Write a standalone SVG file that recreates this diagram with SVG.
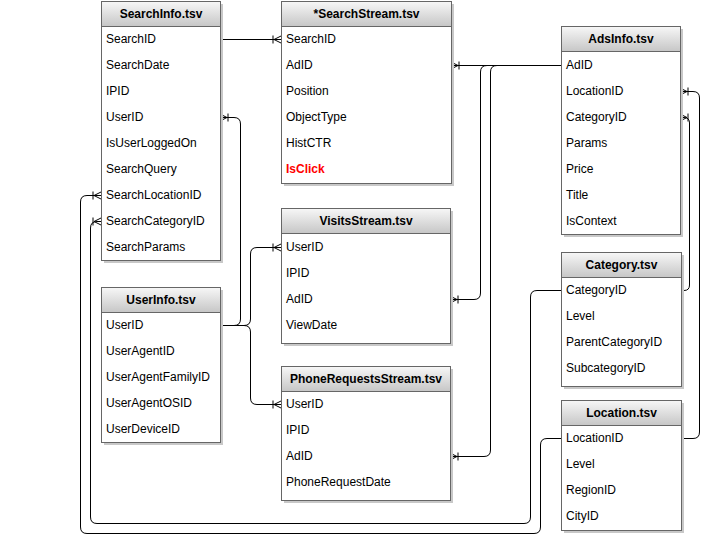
<svg xmlns="http://www.w3.org/2000/svg" width="711" height="547" viewBox="0 0 711 547">
<style>
  .box{fill:#ffffff;stroke:#666666;stroke-width:1}
  .shadow{fill:#c8c8c8}
  .hdr{fill:url(#hg);stroke:#666666;stroke-width:1}
  .title{font-family:"Liberation Sans",Arial,Helvetica,sans-serif;font-size:12px;font-weight:bold;fill:#000;text-anchor:middle}
  .row{font-family:"Liberation Sans",Arial,Helvetica,sans-serif;font-size:12px;fill:#000}
  .red{fill:#ff0000;font-weight:bold}
  .conn path{fill:none;stroke:#000;stroke-width:1}
  .cf{marker-end:url(#many)}
</style>
<defs>
  <linearGradient id="hg" x1="0" y1="0" x2="0" y2="1">
    <stop offset="0" stop-color="#f7f7f7"/>
    <stop offset="1" stop-color="#c6c6c6"/>
  </linearGradient>
  <marker id="many" viewBox="0 0 10 10" refX="10" refY="5" markerWidth="10" markerHeight="10" orient="auto" markerUnits="userSpaceOnUse" overflow="visible">
    <path d="M10,1.5 L3,5 L10,8.5 M2,1 V9" fill="none" stroke="#000" stroke-width="1"/>
  </marker>
</defs>
<rect width="711" height="547" fill="#ffffff"/>

<g class="conn" id="connectors">
  <path class="cf" d="M220,39.5 H281"/>
  <path class="cf" d="M561,65.5 H451"/>
  <path class="cf" d="M561,65.5 H487 Q480.5,65.5 480.5,72 V293 Q480.5,299.5 474,299.5 H450"/>
  <path class="cf" d="M561,65.5 H497 Q490.5,65.5 490.5,72 V450 Q490.5,456.5 484,456.5 H450"/>
  <path class="cf" d="M681,438.5 H693 Q699.5,438.5 699.5,432 V98 Q699.5,91.5 693,91.5 H680"/>
  <path class="cf" d="M681,290.5 H684 Q689.5,290.5 689.5,285 V123 Q689.5,117.5 684,117.5 H680"/>
  <path class="cf" d="M561,290.5 H537 Q530.5,290.5 530.5,297 V517 Q530.5,523.5 524,523.5 H97 Q90.5,523.5 90.5,517 V228 Q90.5,221.5 97,221.5 H101"/>
  <path class="cf" d="M561,438.5 H547 Q540.5,438.5 540.5,445 V527 Q540.5,533.5 534,533.5 H87 Q80.5,533.5 80.5,527 V202 Q80.5,195.5 87,195.5 H101"/>
  <path class="cf" d="M220,325.5 H234 Q240.5,325.5 240.5,319 V124 Q240.5,117.5 234,117.5 H220"/>
  <path class="cf" d="M220,325.5 H244 Q250.5,325.5 250.5,319 V254 Q250.5,247.5 257,247.5 H281"/>
  <path class="cf" d="M220,325.5 H244 Q250.5,325.5 250.5,332 V398 Q250.5,404.5 257,404.5 H281"/>
</g>

<g id="SearchInfo">
  <rect class="shadow" x="104" y="4" width="119" height="259"/>
  <rect class="box" x="101.5" y="1.5" width="119" height="259"/>
  <rect class="hdr" x="101.5" y="1.5" width="119" height="25"/>
  <text class="title" x="161" y="18">SearchInfo.tsv</text>
  <text class="row" x="106" y="43">SearchID</text>
  <text class="row" x="106" y="69">SearchDate</text>
  <text class="row" x="106" y="95">IPID</text>
  <text class="row" x="106" y="121">UserID</text>
  <text class="row" x="106" y="147">IsUserLoggedOn</text>
  <text class="row" x="106" y="173">SearchQuery</text>
  <text class="row" x="106" y="199">SearchLocationID</text>
  <text class="row" x="106" y="225">SearchCategoryID</text>
  <text class="row" x="106" y="251">SearchParams</text>
</g>

<g id="SearchStream">
  <rect class="shadow" x="284" y="4" width="170" height="182"/>
  <rect class="box" x="281.5" y="1.5" width="170" height="182"/>
  <rect class="hdr" x="281.5" y="1.5" width="170" height="25"/>
  <text class="title" x="366.5" y="18">*SearchStream.tsv</text>
  <text class="row" x="286" y="43">SearchID</text>
  <text class="row" x="286" y="69">AdID</text>
  <text class="row" x="286" y="95">Position</text>
  <text class="row" x="286" y="121">ObjectType</text>
  <text class="row" x="286" y="147">HistCTR</text>
  <text class="row red" x="286" y="173">IsClick</text>
</g>

<g id="AdsInfo">
  <rect class="shadow" x="564" y="29" width="119" height="208"/>
  <rect class="box" x="561.5" y="26.5" width="119" height="208"/>
  <rect class="hdr" x="561.5" y="26.5" width="119" height="25"/>
  <text class="title" x="621" y="43">AdsInfo.tsv</text>
  <text class="row" x="566" y="69">AdID</text>
  <text class="row" x="566" y="95">LocationID</text>
  <text class="row" x="566" y="121">CategoryID</text>
  <text class="row" x="566" y="147">Params</text>
  <text class="row" x="566" y="173">Price</text>
  <text class="row" x="566" y="199">Title</text>
  <text class="row" x="566" y="225">IsContext</text>
</g>

<g id="Category">
  <rect class="shadow" x="564" y="255" width="120" height="134"/>
  <rect class="box" x="561.5" y="252.5" width="120" height="134"/>
  <rect class="hdr" x="561.5" y="252.5" width="120" height="25"/>
  <text class="title" x="621.5" y="269">Category.tsv</text>
  <text class="row" x="566" y="294">CategoryID</text>
  <text class="row" x="566" y="320">Level</text>
  <text class="row" x="566" y="346">ParentCategoryID</text>
  <text class="row" x="566" y="372">SubcategoryID</text>
</g>

<g id="Location">
  <rect class="shadow" x="564" y="403" width="120" height="130"/>
  <rect class="box" x="561.5" y="400.5" width="120" height="130"/>
  <rect class="hdr" x="561.5" y="400.5" width="120" height="25"/>
  <text class="title" x="621.5" y="417">Location.tsv</text>
  <text class="row" x="566" y="442">LocationID</text>
  <text class="row" x="566" y="468">Level</text>
  <text class="row" x="566" y="494">RegionID</text>
  <text class="row" x="566" y="520">CityID</text>
</g>

<g id="UserInfo">
  <rect class="shadow" x="104" y="290" width="119" height="155"/>
  <rect class="box" x="101.5" y="287.5" width="119" height="155"/>
  <rect class="hdr" x="101.5" y="287.5" width="119" height="25"/>
  <text class="title" x="161" y="304">UserInfo.tsv</text>
  <text class="row" x="106" y="329">UserID</text>
  <text class="row" x="106" y="355">UserAgentID</text>
  <text class="row" x="106" y="381">UserAgentFamilyID</text>
  <text class="row" x="106" y="407">UserAgentOSID</text>
  <text class="row" x="106" y="433">UserDeviceID</text>
</g>

<g id="VisitsStream">
  <rect class="shadow" x="284" y="211" width="169" height="135"/>
  <rect class="box" x="281.5" y="208.5" width="169" height="135"/>
  <rect class="hdr" x="281.5" y="208.5" width="169" height="25"/>
  <text class="title" x="366" y="225">VisitsStream.tsv</text>
  <text class="row" x="286" y="251">UserID</text>
  <text class="row" x="286" y="277">IPID</text>
  <text class="row" x="286" y="303">AdID</text>
  <text class="row" x="286" y="329">ViewDate</text>
</g>

<g id="PhoneRequestsStream">
  <rect class="shadow" x="284" y="369" width="169" height="134"/>
  <rect class="box" x="281.5" y="366.5" width="169" height="134"/>
  <rect class="hdr" x="281.5" y="366.5" width="169" height="25"/>
  <text class="title" x="366" y="383">PhoneRequestsStream.tsv</text>
  <text class="row" x="286" y="408">UserID</text>
  <text class="row" x="286" y="434">IPID</text>
  <text class="row" x="286" y="460">AdID</text>
  <text class="row" x="286" y="486">PhoneRequestDate</text>
</g>
</svg>
